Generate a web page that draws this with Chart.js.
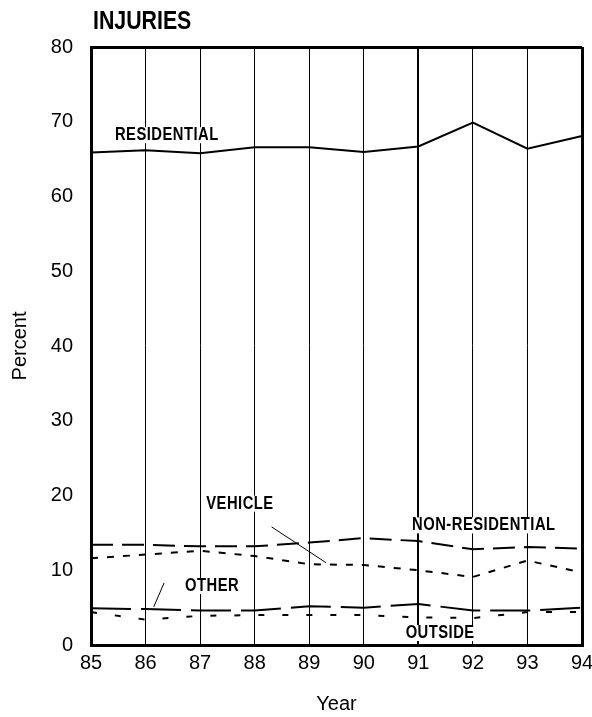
<!DOCTYPE html>
<html><head><meta charset="utf-8">
<script src="https://cdn.jsdelivr.net/npm/chart.js@4/dist/chart.umd.min.js"></script>
<style>html,body{margin:0;padding:0;background:#fff}#wrap{width:592px;height:717px}</style>
</head><body><div id="wrap"><canvas id="c" width="592" height="717"></canvas></div>
<script>
const years = ['85','86','87','88','89','90','91','92','93','94'];
const residential = [65.9, 66.2, 65.8, 66.6, 66.6, 65.95, 66.7, 69.9, 66.4, 68.1];
const nonResidential = [13.4, 13.4, 13.2, 13.2, 13.7, 14.3, 13.9, 12.8, 13.1, 12.9];
const vehicle = [11.6, 12.1, 12.6, 11.9, 10.8, 10.7, 10.0, 9.1, 11.3, 9.7];
const other = [4.9, 4.8, 4.6, 4.6, 5.2, 5.0, 5.5, 4.6, 4.6, 5.0];
const outside = [4.4, 3.4, 3.9, 4.0, 4.0, 4.0, 3.7, 3.6, 4.4, 4.4];
const yTicks = [0,10,20,30,40,50,60,70,80];
const seriesLabels = [
  {text:'RESIDENTIAL', x:1.39, y:68.2},
  {text:'VEHICLE', x:2.73, y:18.9},
  {text:'NON-RESIDENTIAL', x:7.2, y:16.0},
  {text:'OTHER', x:2.22, y:7.9},
  {text:'OUTSIDE', x:6.40, y:1.6}
];
const leaders = [
  {x1:3.31, y1:15.8, x2:4.31, y2:11.0},
  {x1:1.34, y1:8.3, x2:1.15, y2:5.1}
];
const titleText = 'INJURIES';
const NARROW = 0.82;

const labelPlugin = {
  id:'labels',
  afterDatasetsDraw(chart){
    const ctx = chart.ctx, xs = chart.scales.x, ys = chart.scales.y;
    ctx.save();
    ctx.strokeStyle = '#000'; ctx.lineWidth = 1;
    leaders.forEach(l=>{
      ctx.beginPath();
      ctx.moveTo(xs.getPixelForValue(l.x1), ys.getPixelForValue(l.y1));
      ctx.lineTo(xs.getPixelForValue(l.x2), ys.getPixelForValue(l.y2));
      ctx.stroke();
    });
    ctx.font = 'bold 18px "Liberation Sans", sans-serif';
    ctx.textAlign = 'center'; ctx.textBaseline = 'middle';
    try { ctx.letterSpacing = '0.6px'; } catch(e) {}
    seriesLabels.forEach(s=>{
      const px = xs.getPixelForValue(s.x), py = ys.getPixelForValue(s.y);
      const w = ctx.measureText(s.text).width * NARROW;
      ctx.fillStyle = '#fff';
      ctx.fillRect(px - w/2 - 2, py - 8, w + 4, 16);
      ctx.fillStyle = '#000';
      ctx.save();
      ctx.translate(px, py);
      ctx.scale(NARROW, 1);
      ctx.fillText(s.text, 0, 0);
      ctx.restore();
    });
    try { ctx.letterSpacing = '0px'; } catch(e) {}
    ctx.font = 'bold 26px "Liberation Sans", sans-serif';
    ctx.textAlign = 'left'; ctx.textBaseline = 'alphabetic';
    ctx.save();
    ctx.translate(93, 29);
    ctx.scale(NARROW, 1);
    ctx.fillText(titleText, 0, 0);
    ctx.restore();
    ctx.restore();
  }
};

const common = {pointRadius:0, tension:0, borderColor:'#000', borderWidth:2, fill:false};
const axisFont = {family:'"Liberation Sans", sans-serif', size:20};
new Chart(document.getElementById('c'), {
  type:'line',
  data:{labels:years, datasets:[
    Object.assign({label:'Residential', data:residential}, common),
    Object.assign({label:'Non-residential', data:nonResidential, borderDash:[22,9]}, common),
    Object.assign({label:'Vehicle', data:vehicle, borderDash:[7,9]}, common),
    Object.assign({label:'Other', data:other, borderDash:[40,10]}, common),
    Object.assign({label:'Outside', data:outside, borderDash:[6,18]}, common)
  ]},
  options:{
    responsive:false, animation:false,
    layout:{padding:{top:47, right:10, left:0, bottom:0}},
    plugins:{legend:{display:false}, tooltip:{enabled:false}, title:{display:false}},
    scales:{
      x:{
        offset:false,
        grid:{color:'#000', lineWidth:c=> (c.index===0||c.index===9)?3:(c.index===6?2:1), drawTicks:false},
        border:{display:true, color:'#000', width:3},
        ticks:{color:'#000', font:axisFont, padding:6, maxRotation:0},
        title:{display:true, text:'Year', color:'#000', font:axisFont, padding:{top:19, bottom:1}},
        afterFit(s){ s.height = 72; s.paddingLeft = 0; s.paddingRight = 0; }
      },
      y:{
        min:0, max:80,
        afterBuildTicks(s){ s.ticks = yTicks.map(v=>({value:v})); },
        grid:{color:c=> c.tick && c.tick.value===80 ? '#000' : 'rgba(0,0,0,0)', lineWidth:3, drawTicks:false},
        border:{display:true, color:'#000', width:3},
        ticks:{color:'#000', font:axisFont, padding:18},
        title:{display:true, text:'Percent', color:'#000', font:axisFont, padding:{top:8, bottom:0}},
        afterFit(s){ s.width = 91; s.paddingTop = 0; s.paddingBottom = 0; }
      }
    }
  },
  plugins:[labelPlugin]
});
</script></body></html>
